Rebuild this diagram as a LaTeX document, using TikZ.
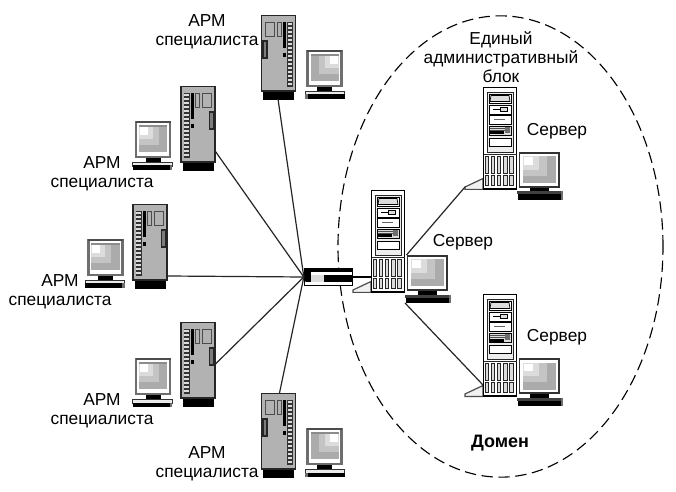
\documentclass[tikz,border=0pt]{standalone}
\usepackage{fontspec}
\usetikzlibrary{shapes.geometric}
\setmainfont{Liberation Sans}
\definecolor{casegrey}{HTML}{B2B2B2}
\definecolor{framegrey}{HTML}{6E6E6E}
\definecolor{paneA}{HTML}{ABABAB}
\definecolor{paneB}{HTML}{C4C4C4}
\definecolor{paneC}{HTML}{DCDCDC}
\tikzset{
  lbl/.style={font=\fontsize{13pt}{14.2pt}\selectfont, align=center, inner sep=0pt},
  link/.style={draw=black!85, line width=0.9pt},
  domainring/.style={draw=black, line width=0.85pt, dash pattern=on 8.5pt off 4.2pt},
  % grey floor-standing workstation; the drive ladder runs down its right side
  pics/workstation/.style={code={
    \fill[black] (2,76) rectangle (33,85);
    \draw[black!85, line width=1pt, fill=casegrey] (0.5,0.5) rectangle (34.5,76);
    \draw[black!70, line width=0.6pt, fill=casegrey] (4,7) rectangle (13.5,21);
    \draw[black!70, line width=0.6pt, fill=casegrey] (16,7) rectangle (20.5,21);
    \fill[black] (22,7) rectangle (24.5,33);
    \fill[black] (21.5,38) rectangle (24.5,42);
    \draw[black!85, line width=0.8pt, fill=casegrey!70!black] (2,26) rectangle (6,43);
    \fill[black!80] (26,7) rectangle (32,72);
    \foreach \k in {0,...,15}{\fill[paneC] (26.8,8+\k*4) rectangle (31.2,10.2+\k*4);}
    \coordinate (-top) at (18.5,0);
    \coordinate (-bottom) at (17,84);
    \coordinate (-upper) at (0,42);
    \coordinate (-lower) at (0,65.5);
    \coordinate (-lowest) at (0,72);
  }},
  % small desktop monitor on a flat base; the lit corner of the screen is upper right
  pics/desktop/.style={code={
    \fill[black] (12,35) rectangle (27,41);
    \draw[framegrey, line width=1.6pt, fill=white] (2.5,0.8) rectangle (36.5,36);
    \fill[black!70] (2,0) rectangle (37,2.2);
    \fill[paneA] (5.5,4) rectangle (34,31);
    \fill[black!45] (5.5,4) rectangle (34,6);
    \fill[paneB] (14,6) rectangle (34,24);
    \fill[paneC] (20,6) rectangle (34,18);
    \fill[white] (25,6) rectangle (33,14);
    \draw[black!80, line width=0.5pt, fill=paneC!60] (0.3,41) rectangle (39.7,45);
    \fill[black] (3,44.5) rectangle (39.7,49);
    \fill[framegrey] (0.3,44.5) rectangle (3,49);
  }},
  % white server tower with a drive bay column and ventilation slots
  pics/servertower/.style={code={
    \draw[black!70, line width=0.9pt, fill=paneC!40] (0,91.5) -- (-18,100) -- (-18,102.4) -- (0,102.4) -- cycle;
    \draw[black, line width=1pt, fill=white] (0.5,0.5) rectangle (33.5,102);
    \draw[black!85, line width=0.6pt, fill=paneC!50] (4,5) rectangle (30,65);
    \draw[black, line width=0.7pt, fill=white] (6,7) rectangle (28,16);
    \draw[black, line width=0.5pt, fill=paneC] (8,8.5) -- (26,8.5) -- (27,14.5) -- (7,14.5) -- cycle;
    \draw[black, line width=0.7pt, fill=white] (6,18) rectangle (28,27);
    \draw[black, line width=0.7pt, fill=paneC] (17,20.5) rectangle (24,24.5);
    \draw[black, line width=0.5pt] (10,22.5) -- (17,22.5);
    \draw[black, line width=0.7pt, fill=white] (6,28) rectangle (28,37);
    \draw[black!60, line width=0.5pt] (11,32.5) -- (22,32.5);
    \draw[black, line width=0.7pt, fill=paneC] (6,39) rectangle (28,48);
    \fill[black] (6.5,44.5) rectangle (21,47.5);
    \draw[black!70, line width=0.5pt] (7,41) -- (22,41) (7,43) -- (22,43);
    \fill[framegrey] (22,40) rectangle (27,46);
    \draw[black, line width=0.7pt, fill=white] (6,51) rectangle (28,59);
    \draw[black!85, line width=0.5pt] (0.5,67) -- (33.5,67);
    \foreach \i in {0,...,4}{
      \draw[black!85, line width=0.6pt, fill=paneC] (2.3+\i*6.1,69) rectangle (5.6+\i*6.1,86);
      \draw[black!85, line width=0.6pt, fill=paneC] (2.3+\i*6.1,88) rectangle (5.6+\i*6.1,98);
    }
    \coordinate (-plug) at (-18,100);
    \coordinate (-side) at (0,91);
  }},
  % larger monitor paired with a server
  pics/servermonitor/.style={code={
    \fill[black] (13,34) rectangle (32,40);
    \draw[black!80, line width=1.2pt, fill=white] (2.5,1) rectangle (42,35);
    \fill[paneA] (6,4.5) rectangle (39,31.5);
    \fill[paneB] (6,4.5) rectangle (30,24);
    \fill[paneC] (6,4.5) rectangle (22,18);
    \fill[white] (7,5.5) rectangle (16,13);
    \fill[black!75] (0,39.5) rectangle (46,42.5);
    \fill[black] (1,42.5) rectangle (44,48);
    \fill[framegrey] (44,39.5) rectangle (46,48);
    \coordinate (-nw) at (1.5,0);
    \coordinate (-sw) at (0,48);
  }}
}
\begin{document}
\begin{tikzpicture}[x=0.75pt,y=-0.75pt]
\useasboundingbox[fill=white] (0,0) rectangle (676,492);

% workstations
\pic (t1) at (261,15) {workstation};
\pic[xscale=-1] (t2) at (215.5,86) {workstation};
\pic[xscale=-1] (t3) at (167.5,204) {workstation};
\pic[xscale=-1] (t4) at (215.5,322) {workstation};
\pic (t5) at (261,393) {workstation};

\pic (m1) at (305,50) {desktop};
\pic[xscale=-1] (m2) at (172.5,121) {desktop};
\pic[xscale=-1] (m3) at (125,239) {desktop};
\pic[xscale=-1] (m4) at (172.5,358) {desktop};
\pic (m5) at (305,428) {desktop};

% administrative domain boundary
\node[domainring, ellipse, minimum width=243.75pt, minimum height=346pt, inner sep=0pt] (dom) at (500.5,246.5) {};

% servers
\pic (s0) at (371,190) {servertower};
\pic (s1) at (483,87) {servertower};
\pic (s2) at (483,294) {servertower};
\pic (d0) at (405,255) {servermonitor};
\pic (d1) at (517,152) {servermonitor};
\pic (d2) at (517,358) {servermonitor};

% hub
\node[draw=black, line width=1pt, fill=white, minimum width=36pt, minimum height=13pt, inner sep=0pt] (hub) at (328.5,277) {};
\fill[black] (hub.north west) rectangle ++(48,4.5);
\fill[black] (hub.west) ++(-1,-3) -- ++(3,-4) -- ++(5,0) -- ++(0,12) -- ++(-5,0) -- ++(-3,-4) -- cycle;
\fill[paneC] (hub.west) ++(7,-2) rectangle ++(13,7);
\fill[black] (hub.west) ++(20,-2) rectangle ++(28,7);

% links
\draw[link] (hub.west) -- (t1-bottom);
\draw[link] (hub.west) -- (t2-lower);
\draw[link] (hub.west) -- (t3-lowest);
\draw[link] (hub.west) -- (t4-upper);
\draw[link] (hub.west) -- (t5-top);
\draw[black, line width=1.8pt] (hub.east) -- (s0-side |- hub.east);
\draw[link] (d0-nw) -- (s1-plug);
\draw[link] (d0-sw) -- (s2-side);

% labels
\node[lbl] (l1) at (207,32) {АРМ\\специалиста};
\node[lbl] (l2) at (102,174) {АРМ\\специалиста};
\node[lbl] (l3) at (60,292) {АРМ\\специалиста};
\node[lbl] (l4) at (102,411) {АРМ\\специалиста};
\node[lbl] (l5) at (207,464) {АРМ\\специалиста};
\node[lbl] (l6) at (501,57) {Единый\\административный\\блок};
\node[lbl] (l7) at (557,131) {Сервер};
\node[lbl] (l8) at (463,242) {Сервер};
\node[lbl] (l9) at (557,337) {Сервер};
\node[lbl, font=\fontsize{13.5pt}{15pt}\selectfont\bfseries] (l10) at (500,443) {Домен};
\end{tikzpicture}
\end{document}
